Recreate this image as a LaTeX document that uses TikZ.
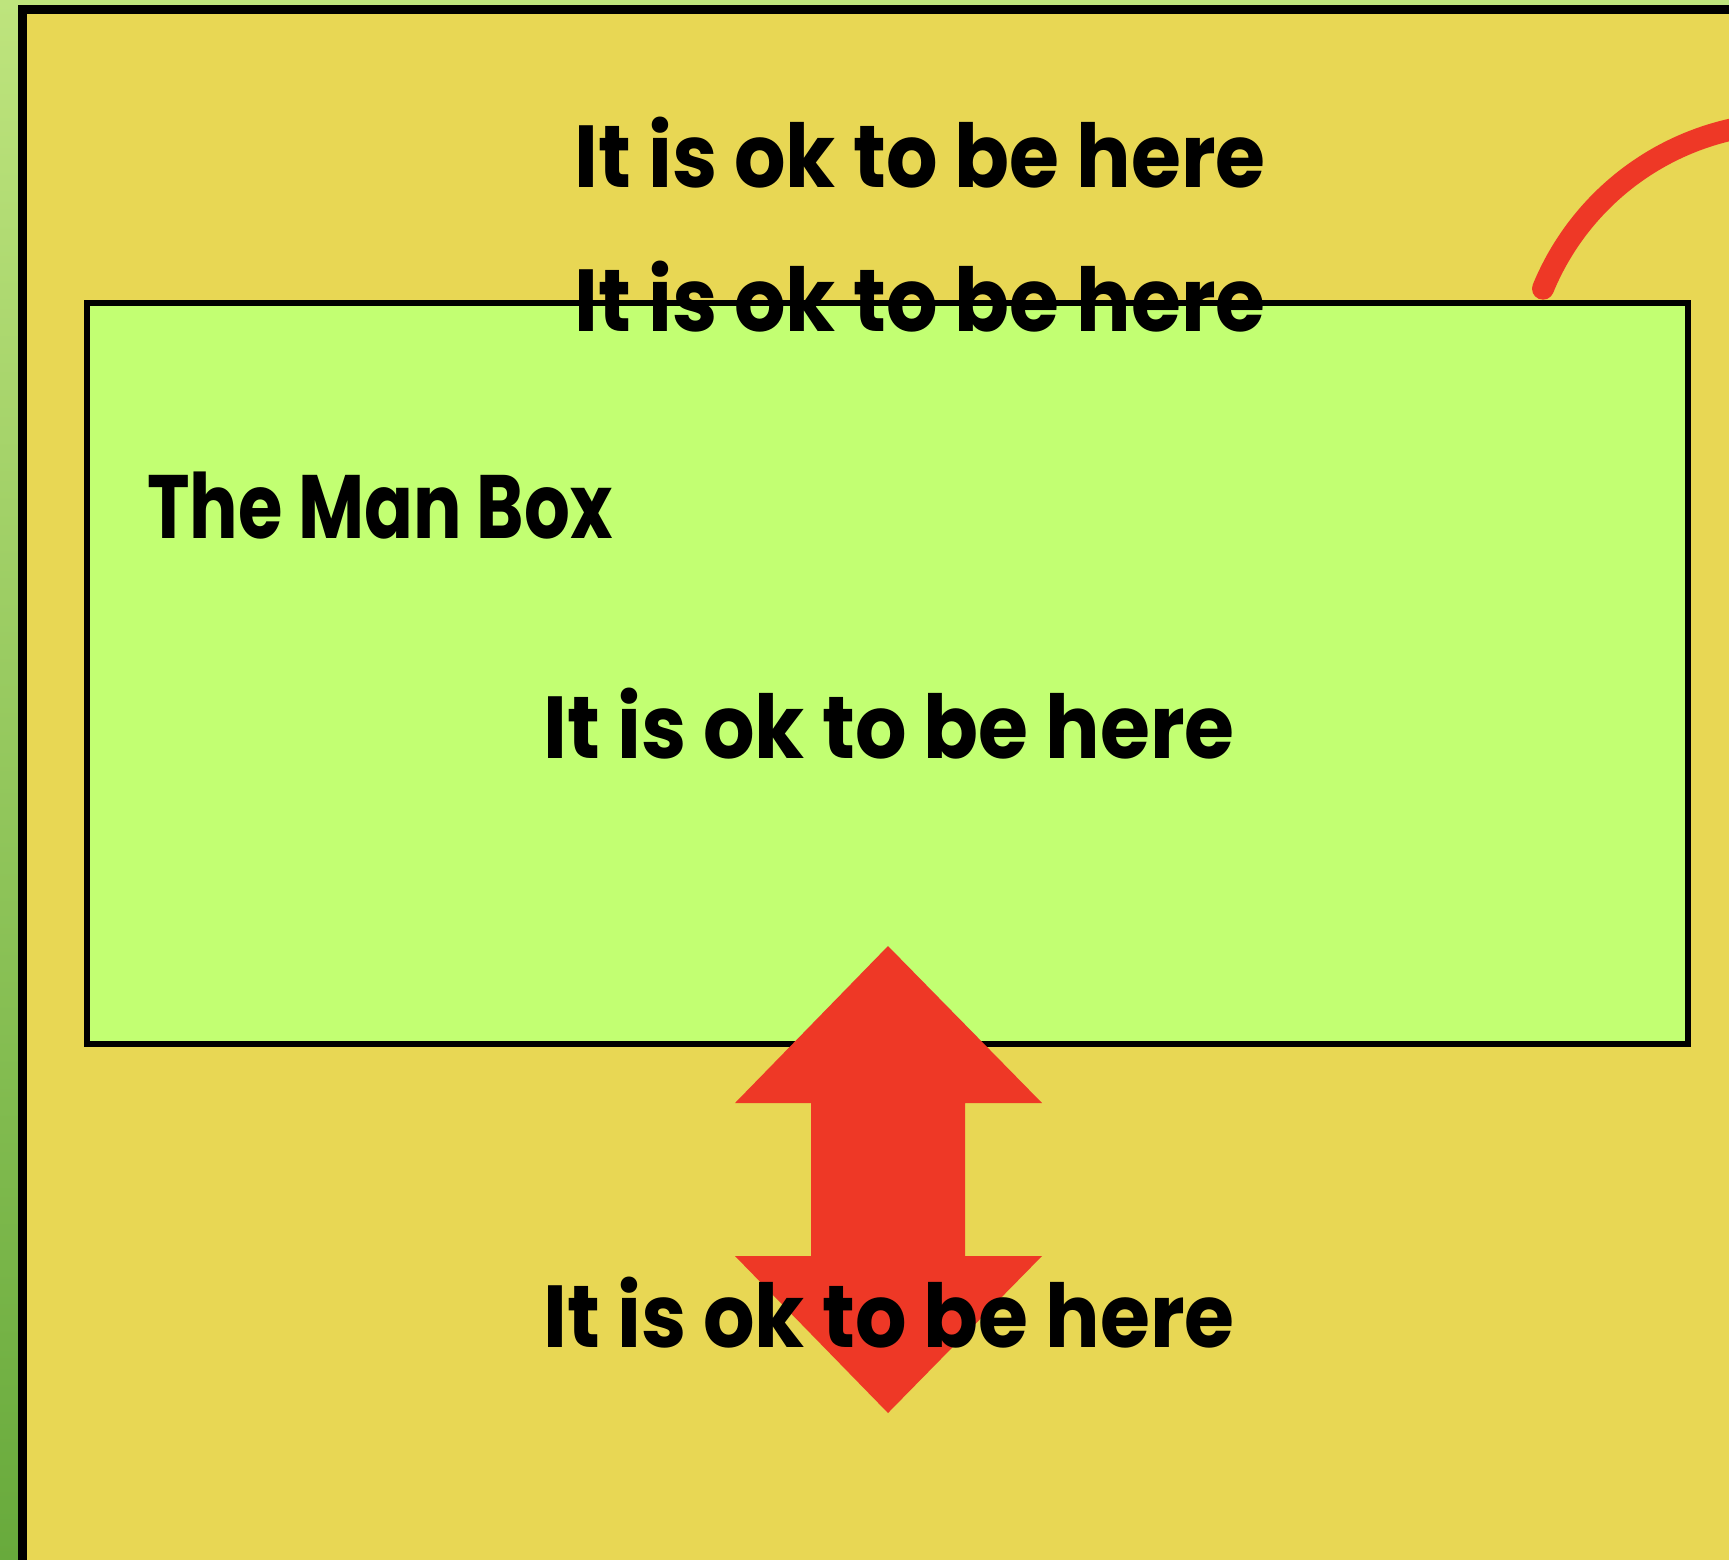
\documentclass[tikz,border=0pt]{standalone}
\usepackage{fontspec}
\setmainfont{Poppins}
\newfontfamily\okfont{Poppins}[FakeStretch=0.92]
\newfontfamily\titlefont{Poppins}[FakeStretch=0.80]
\usepackage{xcolor}
\usetikzlibrary{positioning}

\definecolor{bgtop}{RGB}{190,228,125}
\definecolor{bgbot}{RGB}{104,170,60}
\definecolor{sand}{RGB}{232,215,84}
\definecolor{lime}{RGB}{194,255,114}
\definecolor{alarm}{RGB}{238,56,38}

\begin{document}
\begin{tikzpicture}[
  x=0.5pt, y=-0.5pt,
  frame/.style={draw=black, line width=4.5pt},
  okline/.style={font=\okfont\fontsize{44}{46}\selectfont\bfseries, anchor=base, inner sep=0pt},
  title/.style={font=\titlefont\fontsize{45}{47}\selectfont\bfseries, anchor=base west, inner sep=0pt},
  swoop/.style={draw=alarm, line width=11pt, line cap=round}
]
\useasboundingbox (0,0) rectangle (1729,1559);
\clip (0,0) rectangle (1729,1559);
% backdrop
\shade[top color=bgtop, bottom color=bgbot] (0,0) rectangle (1729,1559);
\fill[sand, frame] (22,9) rectangle (1760,1600);
% the box
\fill[lime, draw=black, line width=3pt] (87,303) rectangle (1688,1044);
% curved stroke top right
\draw[swoop] plot[domain=202.3:268, samples=50, smooth]
  ({1790+267*cos(\x)},{390+267*sin(\x)});
% double arrow
\fill[alarm] (888,946) -- (1042,1103) -- (965,1103) -- (965,1256) -- (1042,1256)
  -- (888,1413) -- (735,1256) -- (811,1256) -- (811,1103) -- (735,1103) -- cycle;
% texts
\node[okline] (ok1) at (920,187)  {It is ok to be here};
\node[okline] (ok2) at (920,331)  {It is ok to be here};
\node[title]  (mbox) at (147,538) {The Man Box};
\node[okline] (ok3) at (889,758)  {It is ok to be here};
\node[okline] (ok4) at (889,1347) {It is ok to be here};
\end{tikzpicture}
\end{document}
